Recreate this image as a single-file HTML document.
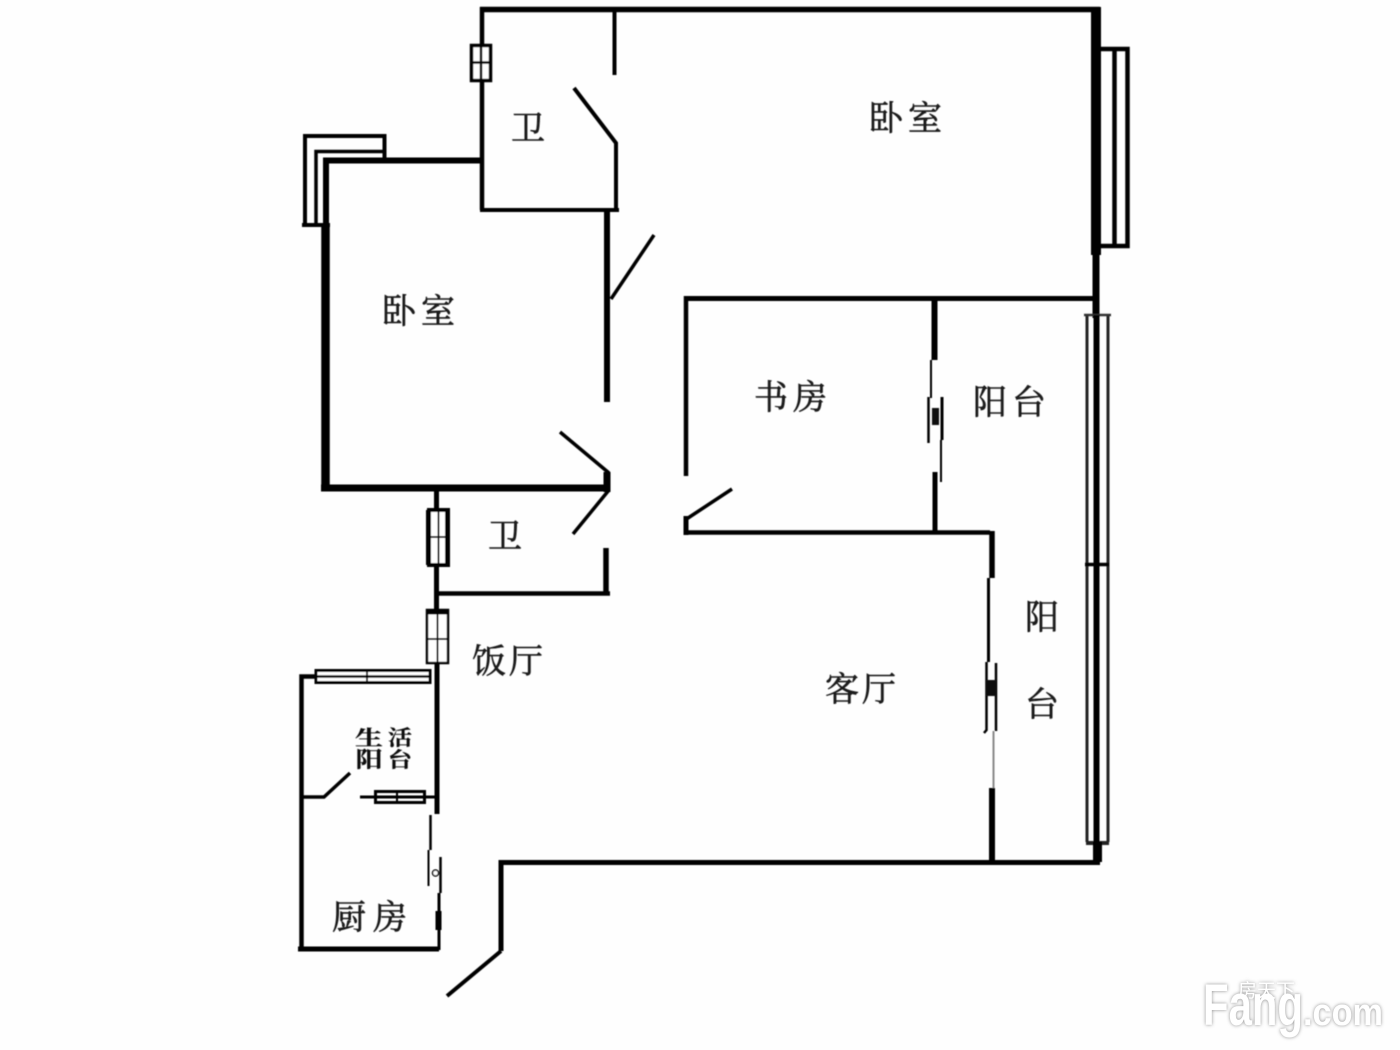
<!DOCTYPE html>
<html>
<head>
<meta charset="utf-8">
<style>
html,body{margin:0;padding:0;background:#fff;}
body{width:1400px;height:1050px;overflow:hidden;}
svg{display:block;}
.l{font-family:"Liberation Serif","Noto Serif CJK SC",serif;fill:#1a1a1a;stroke:#1a1a1a;stroke-width:0.6px;font-size:34px;text-anchor:middle;}
.b{font-weight:700;fill:#111;stroke-width:0.3px;}
</style>
</head>
<body>
<svg width="1400" height="1050" viewBox="0 0 1400 1050" xmlns="http://www.w3.org/2000/svg">
<defs>
<filter id="s" x="-5%" y="-5%" width="110%" height="110%"><feGaussianBlur stdDeviation="0.45"/></filter>
<filter id="w" x="-20%" y="-40%" width="140%" height="180%"><feGaussianBlur stdDeviation="1.8"/></filter>
</defs>
<rect width="1400" height="1050" fill="#fefefe"/>
<g filter="url(#s)" fill="none" stroke="#000" stroke-linecap="butt" stroke-linejoin="miter">
<!-- top bath and master -->
<path d="M482 7V210" stroke-width="4.5"/>
<path d="M480 9.500H1100" stroke-width="5.500"/>
<path d="M614.500 9V75" stroke-width="4"/>
<path d="M480 210H619" stroke-width="4"/>
<path d="M574 88L616 143V210" stroke-width="4"/>
<rect x="471.500" y="45.500" width="19" height="35" fill="#fff" stroke-width="3.500"/>
<path d="M481 45V80M471 62.500H491" stroke-width="2.500"/>
<!-- right wall and window -->
<path d="M1096 7V255" stroke-width="10"/>
<path d="M1096 255V318" stroke-width="7"/>
<path d="M1100 49H1127.500V246H1100" stroke-width="4.500"/>
<path d="M1114.500 49V246" stroke-width="4.500"/>
<!-- left bedroom -->
<path d="M305 226V136H384.500V160" stroke-width="4"/>
<path d="M316 226V151.500H384" stroke-width="3.500"/>
<path d="M326 226V160.500H481" stroke-width="6"/>
<path d="M302 225H330" stroke-width="4"/>
<path d="M325.500 224V491" stroke-width="8.500"/>
<path d="M321 488H610" stroke-width="7"/>
<path d="M607 210V402" stroke-width="6"/>
<path d="M611 299L654 235" stroke-width="3.500"/>
<path d="M607 472V492" stroke-width="7"/>
<path d="M560 432L609 473" stroke-width="3.500"/>
<path d="M573 534L609 490" stroke-width="3.500"/>
<!-- lower bath -->
<path d="M436.500 490V610" stroke-width="5"/>
<path d="M436 593.500H610" stroke-width="4.500"/>
<path d="M606 548V595" stroke-width="5.500"/>
<rect x="429" y="510" width="19" height="55" fill="#fff" stroke-width="4"/>
<path d="M428.500 510V565M447.500 510V565" stroke-width="5"/>
<path d="M438.500 510V565M428 537H448" stroke-width="2"/>
<rect x="427" y="610" width="21" height="53" fill="#fff" stroke-width="2.500"/>
<path d="M426 612H449" stroke-width="5"/>
<path d="M437.500 610V663M427 639H448" stroke-width="2"/>
<!-- service balcony and kitchen -->
<path d="M437 664V814" stroke-width="5"/>
<rect x="316" y="670.500" width="114" height="12" fill="#fff" stroke-width="3"/>
<path d="M316 676.500H430" stroke-width="2.500"/>
<path d="M367 669V684" stroke-width="2"/>
<path d="M316 676.500H301.500V950" stroke-width="4.500"/>
<path d="M298 949H439" stroke-width="5"/>
<path d="M303 797H324L350 773" stroke-width="3.500"/>
<path d="M360 797H436" stroke-width="3"/>
<rect x="375.500" y="791.500" width="49" height="11" fill="none" stroke-width="3"/>
<path d="M376 797H424" stroke-width="2.500"/>
<path d="M397 791V803" stroke-width="2"/>
<path d="M430.500 815V850" stroke-width="2.500"/>
<path d="M428.500 850V886" stroke-width="2"/>
<path d="M440.500 857V893" stroke-width="2.500"/>
<circle cx="435.500" cy="873" r="3" fill="#fff" stroke-width="1.500"/>
<path d="M439 893V950" stroke-width="3"/>
<path d="M438.500 911V930" stroke-width="6"/>
<!-- entry and bottom -->
<path d="M501 951V862.500H1100" stroke-width="5"/>
<path d="M447 996L501 951" stroke-width="4"/>
<!-- study -->
<path d="M686 296V476" stroke-width="4.500"/>
<path d="M684 298.500H1096" stroke-width="5"/>
<path d="M686 516V535" stroke-width="5"/>
<path d="M684 532.500H990" stroke-width="4.500"/>
<path d="M685 520L732 489" stroke-width="3.500"/>
<!-- study-balcony door -->
<path d="M934.500 298V360" stroke-width="6"/>
<path d="M931 360V398" stroke-width="2"/>
<path d="M928.500 397V443" stroke-width="2.500"/>
<path d="M942 397V440" stroke-width="3"/>
<rect x="932" y="408" width="7" height="17" fill="#111" stroke="none"/>
<path d="M941 440V482" stroke-width="2"/>
<path d="M935 472V531" stroke-width="5"/>
<!-- living-balcony door -->
<path d="M992 531V578" stroke-width="5.500"/>
<path d="M988.500 578V662" stroke-width="3"/>
<path d="M986.500 662V730L984 733" stroke-width="2.500"/>
<path d="M996 663V731" stroke-width="2.500"/>
<rect x="986" y="680" width="10" height="16" fill="#111" stroke="none"/>
<path d="M993.500 731V788" stroke="#888" stroke-width="2"/>
<path d="M992 788V862" stroke-width="6"/>
<!-- balcony window -->
<path d="M1087 315V842M1108 315V842" stroke="#222" stroke-width="3"/>
<path d="M1084 315H1111" stroke="#333" stroke-width="2.500"/>
<path d="M1085 564.500H1109" stroke-width="3.500"/>
<path d="M1086 843H1109" stroke="#222" stroke-width="4"/>
<path d="M1096.500 315V845" stroke-width="6"/>
<path d="M1097.500 842V862" stroke-width="9"/>
</g>
<!-- labels -->
<g filter="url(#s)">
<text class="l" x="908" y="130" letter-spacing="5">卧室</text>
<text class="l" x="528" y="140">卫</text>
<text class="l" x="421" y="323" letter-spacing="5">卧室</text>
<text class="l" x="793" y="409" letter-spacing="5">书房</text>
<text class="l" x="1012" y="414" letter-spacing="5">阳台</text>
<text class="l" x="505" y="548">卫</text>
<text class="l" x="509" y="673" letter-spacing="3">饭厅</text>
<text class="l" x="862" y="701" letter-spacing="3">客厅</text>
<text class="l" x="1042" y="629">阳</text>
<text class="l" x="1042" y="716">台</text>
<text class="l" x="373" y="929" letter-spacing="7">厨房</text>
<text class="l b" transform="translate(369,745) scale(1,0.74)" style="font-size:28px">生</text>
<text class="l b" transform="translate(400,745) scale(0.92,0.8)" style="font-size:26px">活</text>
<text class="l b" transform="translate(369,767) scale(1,0.8)" style="font-size:27px">阳</text>
<text class="l b" transform="translate(400,767) scale(0.92,0.82)" style="font-size:26px">台</text>
</g>
<!-- watermark -->
<g font-family="'Liberation Sans','Noto Sans CJK SC',sans-serif" font-weight="700">
<g fill="#8c8c8c" filter="url(#w)">
<text x="1203" y="1025" font-size="58" textLength="100" lengthAdjust="spacingAndGlyphs">Fang</text>
<text x="1303" y="1025" font-size="38" textLength="80" lengthAdjust="spacingAndGlyphs">.com</text>
<text x="1238" y="997" font-size="19" font-weight="400">房天下</text>
</g>
<g fill="#fff">
<text x="1203" y="1025" font-size="58" textLength="100" lengthAdjust="spacingAndGlyphs">Fang</text>
<text x="1303" y="1025" font-size="38" textLength="80" lengthAdjust="spacingAndGlyphs">.com</text>
<text x="1238" y="997" font-size="19" font-weight="400">房天下</text>
</g>
</g>
</svg>
</body>
</html>
